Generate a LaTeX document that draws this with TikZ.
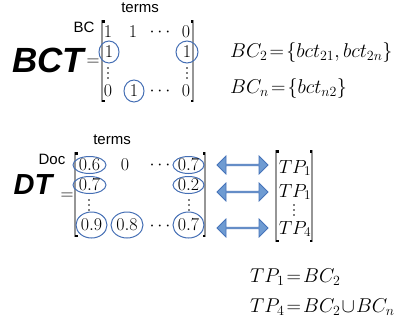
\RequirePackage{fix-cm}
\documentclass[tikz,border=0pt]{standalone}
\usepackage{fontspec}
\usetikzlibrary{shapes.geometric,shapes.arrows}
\newfontfamily\arialf{Liberation Sans}
\definecolor{ellblue}{RGB}{68,110,180}
\definecolor{arrfill}{RGB}{110,155,210}
\definecolor{arrline}{RGB}{70,115,185}
\definecolor{brgray}{RGB}{150,150,150}
\newcommand\mybrk[4]{%
  \draw[brgray, line width=1.3pt] (#1,#3) -- (#1,#4);
  \draw[brgray, line width=1.3pt] (#2,#3) -- (#2,#4);
  \fill[black] (#1,#3) rectangle +(2.5,2.5);
  \fill[black] (#1,#4) rectangle +(2.5,-2.5);
  \fill[black] (#2,#3) rectangle +(-2.5,2.5);
  \fill[black] (#2,#4) rectangle +(-2.5,-2.5);
}
\newcommand\vdts[2]{%
  \fill (#1,#2-5) circle (0.85);
  \fill (#1,#2) circle (0.85);
  \fill (#1,#2+5) circle (0.85);
}
\begin{document}
\begin{tikzpicture}[x=1pt,y=-1pt,
  lbl/.style={font=\arialf\fontsize{15}{15}\selectfont, inner sep=0},
  big/.style={font=\arialf\bfseries\itshape\fontsize{35}{35}\selectfont, inner sep=0},
  bigd/.style={font=\arialf\bfseries\itshape\fontsize{29}{29}\selectfont, inner sep=0},
  ent/.style={font=\fontsize{18}{18}\selectfont, inner sep=0},
  circ/.style={ent, ellipse, draw=ellblue, line width=1pt},
  eqn/.style={font=\fontsize{20}{20}\selectfont, inner sep=0, anchor=west},
  darr/.style={double arrow, draw=arrline, fill=arrfill, line width=0.8pt,
    minimum height=51pt, minimum width=18pt, inner sep=0,
    double arrow head extend=5pt}]
\useasboundingbox (0,0) rectangle (396,327);

% ---------- BCT ----------
\node[lbl] (terms1) at (140,8) {terms};
\node[lbl] (bc) at (84,27) {BC};
\node[big] (bct) at (48,60) {BCT};
\node[ent] (eq1) at (93,62) {$=$};
\mybrk{102}{193}{20}{102}
\node[ent] (b11) at (108,32) {$1$};
\node[ent] (b12) at (133,32) {$1$};
\node[ent] (b13) at (160,32) {$\cdots$};
\node[ent] (b14) at (186,32) {$0$};
\node[circ, minimum width=20pt, minimum height=22pt] (b21) at (109,52) {$1$};
\node[circ, minimum width=22pt, minimum height=22pt] (b24) at (187,52) {$1$};
\vdts{108}{73}
\vdts{187}{73}
\node[ent] (b41) at (108,91) {$0$};
\node[circ, minimum width=20pt, minimum height=22pt] (b42) at (134,91) {$1$};
\node[ent] (b43) at (160,91) {$\cdots$};
\node[ent] (b44) at (186,91) {$0$};

\node[eqn] (e1) at (230,52) {$BC_2\!=\!\{bct_{21},bct_{2n}\}$};
\node[eqn] (e2) at (230,88) {$BC_n\!=\!\{bct_{n2}\}$};

% ---------- DT ----------
\node[lbl] (terms2) at (112,140) {terms};
\node[lbl] (doc) at (52,159) {Doc};
\node[bigd] (dt) at (33,185) {DT};
\node[ent] (eq2) at (67,196) {$=$};
\mybrk{75}{205}{152}{237}
\node[circ, minimum width=33pt, minimum height=17pt] (d11) at (89.5,165) {$0.6$};
\node[ent] (d12) at (125,165) {$0$};
\node[ent] (d13) at (160,165) {$\cdots$};
\node[circ, minimum width=31pt, minimum height=17pt] (d14) at (188.5,165) {$0.7$};
\node[circ, minimum width=33pt, minimum height=17pt] (d21) at (89.5,185) {$0.7$};
\node[circ, minimum width=31pt, minimum height=17pt] (d24) at (188.5,185) {$0.2$};
\vdts{89}{205}
\vdts{189}{205}
\node[circ, minimum width=31pt, minimum height=26pt] (d41) at (91.5,225) {$0.9$};
\node[circ, minimum width=32pt, minimum height=26pt] (d42) at (127,225) {$0.8$};
\node[ent] (d43) at (160,226) {$\cdots$};
\node[circ, minimum width=31pt, minimum height=26pt] (d44) at (188.5,225) {$0.7$};

\node[darr] (a1) at (242.5,165) {};
\node[darr] (a2) at (242.5,192) {};
\node[darr] (a3) at (242.5,228) {};

\mybrk{276}{312}{150}{242}
\node[ent, font=\fontsize{19}{19}\selectfont] (t1) at (295,168) {$TP_1$};
\node[ent, font=\fontsize{19}{19}\selectfont] (t2) at (295,192) {$TP_1$};
\vdts{294}{210}
\node[ent, font=\fontsize{19}{19}\selectfont] (t4) at (295,229) {$TP_4$};

\node[eqn] (e3) at (250,277) {$TP_1\!=\!BC_2$};
\node[eqn] (e4) at (250,307) {$TP_4\!=\!BC_2\!\cup\!BC_n$};
\end{tikzpicture}
\end{document}
